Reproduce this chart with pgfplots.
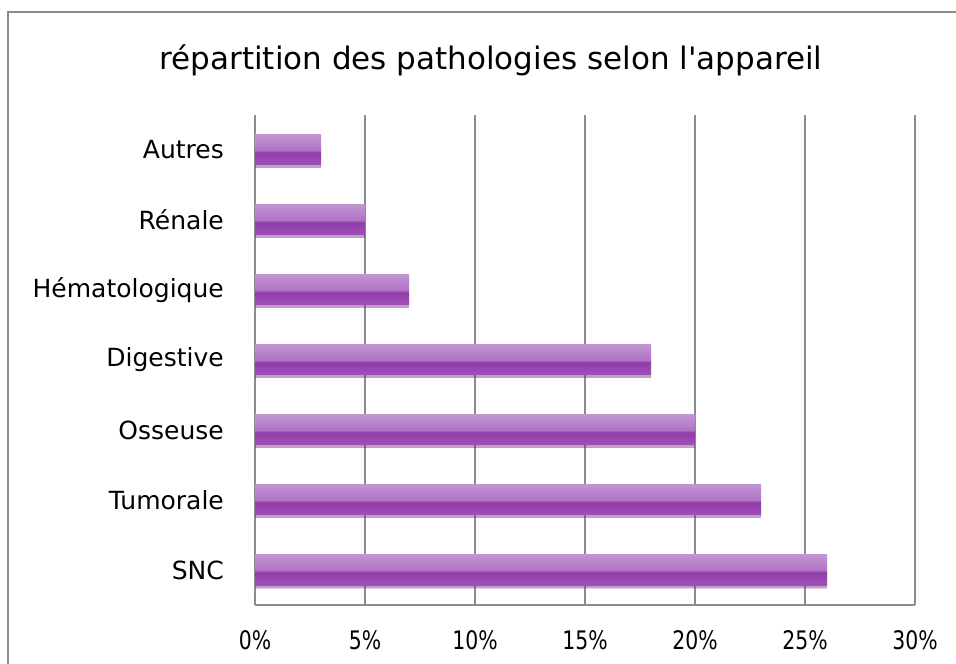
\documentclass[border=0pt]{standalone}
\usepackage{graphicx}
\usepackage{pgfplots}
\pgfplotsset{compat=1.18}
\usepackage{fontspec}
\setmainfont{DejaVu Sans}
\usetikzlibrary{shadows}
\definecolor{gridc}{HTML}{8C8C8C}
\definecolor{btop}{HTML}{CBA4D9}
\definecolor{bhi}{HTML}{C095D1}
\definecolor{bup}{HTML}{B073C6}
\definecolor{bdark}{HTML}{913CAA}
\definecolor{blow}{HTML}{A050B9}
\definecolor{bbot}{HTML}{A95EC1}
\pgfdeclareverticalshading{barshade}{100bp}{color(0bp)=(bbot); color(25bp)=(blow); color(46bp)=(bdark); color(50bp)=(bup); color(75bp)=(bhi); color(100bp)=(btop)}
\pgfplotsset{mybar/.style={draw=none, bar shift=0pt, shading=barshade,
  drop shadow={shadow xshift=0pt, shadow yshift=-3pt, fill=black!70!violet, opacity=0.25}}}
\begin{document}
\begin{tikzpicture}[x=1pt,y=1pt]
\useasboundingbox (0,0) rectangle (956,664);
\draw[gridc, line width=1.5pt] (8,-10) -- (8,652) -- (970,652);
\node[font=\fontsize{31}{35}\selectfont] at (491,604) {répartition des pathologies selon l\textquotesingle appareil};
\begin{axis}[
  at={(255pt,59pt)}, anchor=south west,
  scale only axis, width=660pt, height=490pt,
  xmin=0, xmax=30, ymin=-0.5, ymax=6.5,
  xbar, bar width=30pt,
  axis x line*=bottom, axis y line*=left,
  axis line style={gridc, line width=1.5pt, -},
  xmajorgrids, major grid style={gridc, line width=1.5pt},
  xtick={0,5,...,30}, ytick={0,...,6},
  yticklabels={SNC,Tumorale,Osseuse,Digestive,Hématologique,Rénale,Autres},
  xticklabel={\scalebox{0.8}[1]{\pgfmathprintnumber{\tick}\%}},
  /pgf/number format/assume math mode=true,
  major tick length=0pt,
  yticklabel style={font=\fontsize{25}{28}\selectfont, inner sep=0pt, xshift=-31pt},
  xticklabel style={font=\fontsize{25.5}{28}\selectfont, inner sep=0pt, anchor=north, yshift=-25pt},
]
\addplot[mybar] coordinates {(26,0)};
\addplot[mybar] coordinates {(23,1)};
\addplot[mybar] coordinates {(20,2)};
\addplot[mybar] coordinates {(18,3)};
\addplot[mybar] coordinates {(7,4)};
\addplot[mybar] coordinates {(5,5)};
\addplot[mybar] coordinates {(3,6)};
\end{axis}
\end{tikzpicture}
\end{document}
